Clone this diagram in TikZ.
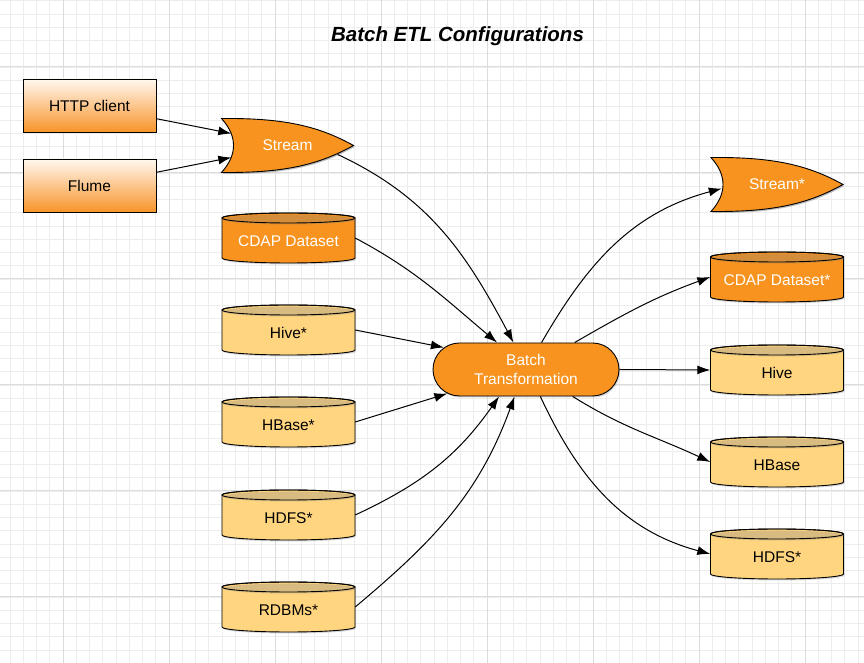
\documentclass[tikz,border=0pt]{standalone}
\usepackage{fontspec}
\setmainfont{Liberation Sans}
\usepackage{xcolor}
\usepackage{tikz}
\usetikzlibrary{arrows.meta,shapes.misc,shadows}

\definecolor{cdaporange}{HTML}{F7931E}
\definecolor{storelight}{HTML}{FFD580}
\definecolor{boxtop}{HTML}{FFF8F0}
\definecolor{boxbottom}{HTML}{F8942A}
\definecolor{gridminor}{HTML}{EDEDED}
\definecolor{gridmajor}{HTML}{DCDCDC}

% cylinder: name, x, y, look, label
\newcommand{\dbstore}[5]{%
  \filldraw[store_line, #4] (#2-66.5,#3+20) -- (#2-66.5,#3-20)
    arc[start angle=180, end angle=360, x radius=66.5, y radius=5]
    -- (#2+66.5,#3+20)
    arc[start angle=0, end angle=180, x radius=66.5, y radius=5] -- cycle;
  \draw[store_line] (#2,#3+20) ellipse [x radius=66.5, y radius=5];
  \node (#1) [store, #4, fill=none] at (#2,#3) {#5};
}

% stream: name, x, y, label
\newcommand{\streamshape}[4]{%
  \filldraw[store_line, fill=cdaporange, soft_shadow] (#2-66,#3+27)
    .. controls (#2-5,#3+27.5) and (#2+30,#3+20) .. (#2+66,#3)
    .. controls (#2+30,#3-20) and (#2-5,#3-27.5) .. (#2-66,#3-27)
    .. controls (#2-57,#3-17) and (#2-54,#3-8) .. (#2-54,#3)
    .. controls (#2-54,#3+8) and (#2-57,#3+17) .. cycle;
  \node (#1) [stream] at (#2,#3) {#4};
}

\begin{document}
\begin{tikzpicture}[x=1pt, y=1pt]
      \tikzstyle{label_font}=[font=\fontsize{15.5}{19}\selectfont]
      \tikzstyle{soft_shadow}=[drop shadow={shadow xshift=1pt, shadow yshift=-1.5pt, opacity=0.3}]
      \tikzstyle{store_line}=[draw=black, line width=0.9pt, soft_shadow]
      \tikzstyle{store}=[label_font, draw=none, inner sep=0pt, minimum width=133, minimum height=50,
                         text height=17pt, text depth=0pt]
      \tikzstyle{store_dark}=[fill=cdaporange, text=white]
      \tikzstyle{store_light}=[fill=storelight, text=black]
      \tikzstyle{stream}=[label_font, draw=none, inner sep=0pt, minimum width=132, minimum height=54, text=white]
      \tikzstyle{source}=[label_font, draw=black, line width=0.9pt, top color=boxtop, bottom color=boxbottom,
                          minimum width=133, minimum height=53, soft_shadow]
      \tikzstyle{batch_job}=[label_font, rounded rectangle, draw=black, line width=0.9pt, fill=cdaporange,
                             text=white, align=center, minimum width=186, minimum height=53, inner sep=0pt, soft_shadow]
      \tikzstyle{flow}=[line width=1pt, -{Latex[length=13pt, width=9pt]}]

      \useasboundingbox (0,0) rectangle (864,663);
      \fill[white] (0,0) rectangle (864,663);

      % grid paper
      \begin{scope}
        \clip (0,0) rectangle (864,663);
        \foreach \i in {0,...,65}
          \draw[gridminor, line width=0.8pt] ({10+13.25*\i},0) -- ++(0,663);
        \foreach \i in {-1,...,49}
          \draw[gridminor, line width=0.8pt] (0,{13+13.25*\i}) -- ++(864,0);
        \foreach \i in {0,...,7}
          \draw[gridmajor, line width=1pt] ({63+106*\i},0) -- ++(0,663);
        \foreach \i in {0,...,5}
          \draw[gridmajor, line width=1pt] (0,{66+106*\i}) -- ++(864,0);
      \end{scope}

      \node (title) at (457.5,621) [anchor=base, font=\fontsize{20.5}{24}\selectfont\bfseries\itshape] {Batch ETL Configurations};

      % sources
      \node (http) at (89.5,557.5) [source] {HTTP client};
      \node (flume) at (89.5,477.5) [source] {Flume};
      \streamshape{stream}{287.5}{517.5}{Stream}

      \dbstore{cdapin}{288.5}{425}{store_dark}{CDAP Dataset}
      \dbstore{hivein}{288.5}{333}{store_light}{Hive*}
      \dbstore{hbasein}{288.5}{241}{store_light}{HBase*}
      \dbstore{hdfsin}{288.5}{148}{store_light}{HDFS*}
      \dbstore{rdbmsin}{288.5}{56}{store_light}{RDBMs*}

      \node (batch) at (526,293.5) [batch_job] {Batch\\Transformation};

      % sinks
      \streamshape{streamout}{777}{478.5}{Stream*}
      \dbstore{cdapout}{777}{386}{store_dark}{CDAP Dataset*}
      \dbstore{hiveout}{777}{293}{store_light}{Hive}
      \dbstore{hbaseout}{777}{201}{store_light}{HBase}
      \dbstore{hdfsout}{777}{109}{store_light}{HDFS*}

      \draw[flow] (http) -- ([xshift=10pt, yshift=12pt]stream.west);
      \draw[flow] (flume) -- ([xshift=10pt, yshift=-12pt]stream.west);
      \draw[flow] ([xshift=-16pt, yshift=-9pt]stream.east) to[out=-25, in=118] (batch.115);
      \draw[flow] (cdapin.east) to[out=-28, in=140] (batch.137);
      \draw[flow] (hivein.east) -- (batch.165);
      \draw[flow] (hbasein.east) -- (batch.197);
      \draw[flow] (hdfsin.east) to[out=25, in=235] (batch.225);
      \draw[flow] (rdbmsin.east) to[out=40, in=250] (batch.247);

      \draw[flow] (batch.60) to[out=60, in=195] ([xshift=11pt, yshift=-4pt]streamout.west);
      \draw[flow] (batch.29) to[out=30, in=200] (cdapout.west);
      \draw[flow] (batch.east) -- (hiveout.west);
      \draw[flow] (batch.-30) to[out=-32, in=155] (hbaseout.west);
      \draw[flow] (batch.298) to[out=-65, in=165] (hdfsout.west);
\end{tikzpicture}
\end{document}
